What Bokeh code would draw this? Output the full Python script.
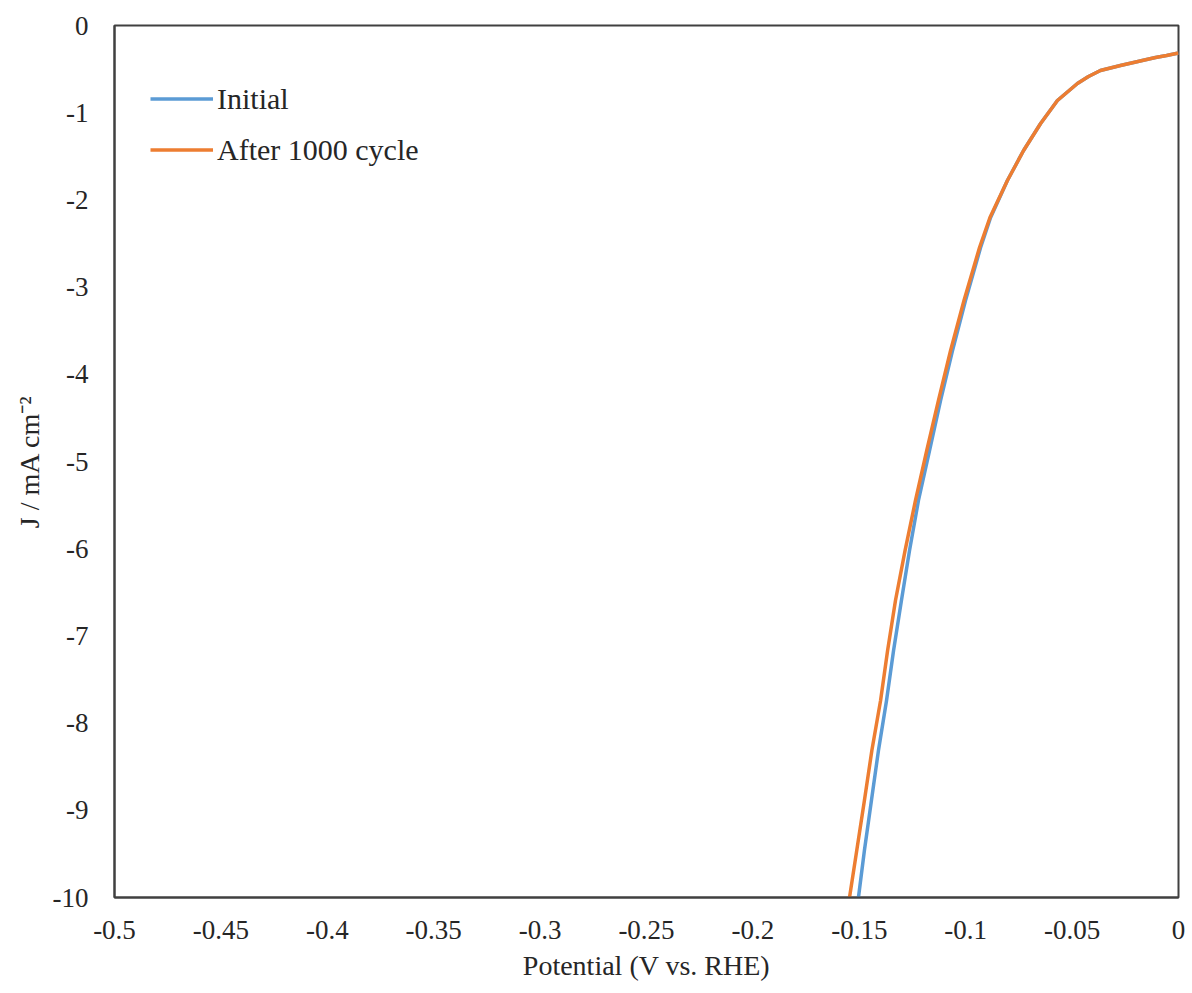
from bokeh.plotting import figure
from bokeh.models import Range1d, FixedTicker, Legend, LegendItem
from bokeh.embed import file_html
from bokeh.resources import INLINE

# Data
potential_initial = [0.0, -0.0056, -0.0108, -0.0160, -0.0211, -0.0273, -0.0367, -0.0423,
                     -0.0475, -0.0569, -0.0648, -0.0728,
                     -0.0804, -0.0883, -0.0930, -0.1001, -0.1062, -0.1118, -0.1170, -0.1222,
                     -0.1264, -0.1302, -0.1339, -0.1372, -0.1410, -0.1443, -0.1476, -0.1504]
current_initial = [-0.315, -0.344, -0.367, -0.396, -0.424, -0.459, -0.516, -0.585,
                   -0.665, -0.860, -1.124, -1.433,
                   -1.778, -2.202, -2.546, -3.154, -3.727, -4.300, -4.874, -5.447,
                   -6.021, -6.594, -7.167, -7.741, -8.314, -8.888, -9.461, -10.0]

potential_after = [0.0, -0.0056, -0.0108, -0.0160, -0.0211, -0.0273, -0.0367, -0.0423,
                   -0.0475, -0.0569, -0.0648, -0.0728,
                   -0.0804, -0.0886, -0.0935, -0.1008, -0.1071, -0.1128, -0.1183, -0.1236,
                   -0.1285, -0.1330, -0.1367, -0.1400, -0.1441, -0.1476, -0.1512, -0.1546]
current_after = [-0.315, -0.344, -0.367, -0.396, -0.424, -0.459, -0.516, -0.585,
                 -0.665, -0.860, -1.124, -1.433,
                 -1.778, -2.202, -2.546, -3.154, -3.727, -4.300, -4.874, -5.447,
                 -6.021, -6.594, -7.167, -7.741, -8.314, -8.888, -9.461, -10.0]

x_ticks = [-0.5, -0.45, -0.4, -0.35, -0.3, -0.25, -0.2, -0.15, -0.1, -0.05, 0.0]
x_tick_labels = ["-0.5", "-0.45", "-0.4", "-0.35", "-0.3", "-0.25", "-0.2", "-0.15", "-0.1", "-0.05", "0"]
y_ticks = [-10, -9, -8, -7, -6, -5, -4, -3, -2, -1, 0]
y_tick_labels = ["-10", "-9", "-8", "-7", "-6", "-5", "-4", "-3", "-2", "-1", "0"]

series_names = ["Initial", "After 1000 cycle"]
series_colors = ["#5B9BD5", "#ED7D31"]
x_title = "Potential (V vs. RHE)"
y_title = "J / mA cm\u207b\u00b2"

FONT = "Liberation Serif"
TXT = "#262626"

p = figure(width=1192, height=993, output_backend="svg", toolbar_location=None,
           x_range=Range1d(-0.5, 0.0), y_range=Range1d(-10, 0),
           min_border_left=114, min_border_right=14, min_border_top=25, min_border_bottom=96)

r1 = p.line(potential_initial, current_initial, line_color=series_colors[0], line_width=3.5,
            line_join="round")
r2 = p.line(potential_after, current_after, line_color=series_colors[1], line_width=3.5,
            line_join="round")

p.xgrid.visible = False
p.ygrid.visible = False
p.outline_line_color = "#404040"
p.outline_line_width = 2
p.outline_line_alpha = 1
p.background_fill_color = "white"
p.border_fill_color = "white"

p.xaxis.ticker = FixedTicker(ticks=x_ticks)
p.xaxis.major_label_overrides = {t: l for t, l in zip(x_ticks, x_tick_labels)}
p.yaxis.ticker = FixedTicker(ticks=y_ticks)
p.yaxis.major_label_overrides = {t: l for t, l in zip(y_ticks, y_tick_labels)}

for ax in (p.xaxis, p.yaxis):
    ax.axis_line_color = "#404040"
    ax.axis_line_width = 2
    ax.major_tick_line_color = None
    ax.minor_tick_line_color = None
    ax.major_tick_out = 0
    ax.major_tick_in = 0
    ax.major_label_text_font = FONT
    ax.major_label_text_font_size = "27px"
    ax.major_label_text_color = TXT
    ax.axis_label_text_font = FONT
    ax.axis_label_text_font_size = "28px"
    ax.axis_label_text_font_style = "normal"
    ax.axis_label_text_color = TXT

p.xaxis.axis_label = x_title
p.xaxis.major_label_standoff = 23
p.xaxis.axis_label_standoff = 8
p.yaxis.axis_label = y_title
p.yaxis.major_label_standoff = 26
p.yaxis.axis_label_standoff = 5

legend = Legend(items=[LegendItem(label=series_names[0], renderers=[r1]),
                       LegendItem(label=series_names[1], renderers=[r2])],
                location=(36, 722), margin=0, padding=0, spacing=0,
                glyph_width=63, glyph_height=51, label_standoff=4,
                label_text_font=FONT, label_text_font_size="30px", label_text_color=TXT,
                border_line_color=None, background_fill_alpha=0)
p.add_layout(legend)

open("out.html", "w").write(file_html(p, INLINE))
